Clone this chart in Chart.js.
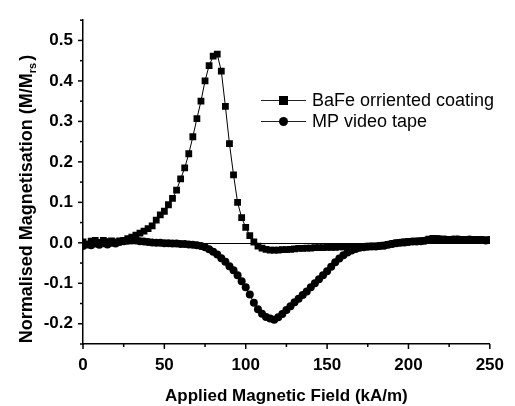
<!DOCTYPE html>
<html>
<head>
<meta charset="utf-8">
<script src="https://cdn.jsdelivr.net/npm/chart.js@4.4.1/dist/chart.umd.min.js"></script>
<style>
  html, body { margin: 0; padding: 0; background: #fff; }
  canvas { display: block; }
</style>
</head>
<body>
<canvas id="chart" width="515" height="406"></canvas>
<script>
// field values (kA/m), sampled every 2.5
const fieldValues = [];
for (let i = 0; i <= 100; i++) fieldValues.push(i * 2.5);

const bafeValues = [
    0.002, -0.004, 0.004, 0.006, 0.001, 0.006, 0.003, 0.005, 0.002, 0.005,
    0.006, 0.010, 0.014, 0.019, 0.024, 0.029, 0.035, 0.042, 0.056, 0.069,
    0.078, 0.094, 0.110, 0.130, 0.158, 0.185, 0.220, 0.262, 0.307, 0.350,
    0.400, 0.438, 0.461, 0.466, 0.424, 0.337, 0.245, 0.168, 0.100, 0.062,
    0.038, 0.018, 0.002, -0.008, -0.013, -0.016, -0.018, -0.018, -0.018, -0.017,
    -0.017, -0.016, -0.015, -0.014, -0.014, -0.013, -0.013, -0.012, -0.012, -0.012,
    -0.011, -0.011, -0.011, -0.010, -0.010, -0.010, -0.010, -0.009, -0.009, -0.009,
    -0.008, -0.008, -0.008, -0.007, -0.006, -0.004, -0.002, 0.000, 0.001, 0.002,
    0.003, 0.003, 0.004, 0.005, 0.006, 0.009, 0.011, 0.010, 0.009, 0.008,
    0.008, 0.008, 0.009, 0.008, 0.008, 0.007, 0.008, 0.008, 0.007, 0.007,
    0.007
];

const mpValues = [
    -0.008, -0.004, -0.006, -0.002, -0.005, -0.001, -0.004, 0.000, -0.002, 0.002,
    0.004, 0.005, 0.006, 0.006, 0.004, 0.003, 0.002, 0.001, 0.000, 0.000,
    -0.001, -0.001, -0.002, -0.002, -0.003, -0.003, -0.004, -0.005, -0.006, -0.008,
    -0.011, -0.016, -0.022, -0.029, -0.038, -0.047, -0.058, -0.068, -0.080, -0.095,
    -0.110, -0.128, -0.148, -0.164, -0.175, -0.183, -0.187, -0.190, -0.184, -0.176,
    -0.166, -0.157, -0.147, -0.138, -0.129, -0.120, -0.110, -0.100, -0.090, -0.080,
    -0.070, -0.059, -0.048, -0.039, -0.031, -0.024, -0.019, -0.015, -0.012, -0.011,
    -0.010, -0.009, -0.009, -0.008, -0.007, -0.005, -0.003, -0.001, 0.000, 0.001,
    0.002, 0.003, 0.003, 0.004, 0.005, 0.007, 0.009, 0.009, 0.008, 0.008,
    0.007, 0.008, 0.008, 0.007, 0.007, 0.008, 0.007, 0.007, 0.007, 0.006,
    0.007
];

const seriesLabels = ['BaFe orriented coating', 'MP video tape'];
const xTitle = 'Applied Magnetic Field (kA/m)';
const yTitleMain = 'Normalised Magnetisation (M/M';
const yTitleSub = 'rs';

const FONT = "'Liberation Sans', Arial, sans-serif";

function toPoints(values) {
    return values.map((v, i) => ({ x: fieldValues[i], y: v }));
}

// ticks, zero line, titles and legend drawn by hand
const decorPlugin = {
    id: 'decor',
    beforeDatasetsDraw(chart) {
        const { ctx, chartArea, scales } = chart;
        const y0 = Math.round(scales.y.getPixelForValue(0)) + 0.5;
        ctx.save();
        ctx.strokeStyle = '#000';
        ctx.lineWidth = 1;
        ctx.beginPath();
        ctx.moveTo(chartArea.left, y0);
        ctx.lineTo(chartArea.right, y0);
        ctx.stroke();
        ctx.restore();
    },
    afterDraw(chart) {
        const { ctx, chartArea, scales } = chart;
        ctx.save();
        ctx.strokeStyle = '#000';
        ctx.lineWidth = 1.5;

        // x ticks (outward)
        scales.x.ticks.forEach(t => {
            const px = scales.x.getPixelForValue(t.value);
            const len = t.value % 50 === 0 ? 5 : 3;
            ctx.beginPath();
            ctx.moveTo(px, chartArea.bottom);
            ctx.lineTo(px, chartArea.bottom + len);
            ctx.stroke();
        });
        // y ticks (outward)
        scales.y.ticks.forEach(t => {
            const py = scales.y.getPixelForValue(t.value);
            const major = Math.abs(t.value * 10 - Math.round(t.value * 10)) < 1e-6;
            ctx.beginPath();
            ctx.moveTo(chartArea.left, py);
            ctx.lineTo(chartArea.left - (major ? 5 : 3), py);
            ctx.stroke();
        });

        // x title
        ctx.fillStyle = '#000';
        ctx.font = 'bold 17px ' + FONT;
        ctx.textAlign = 'center';
        ctx.textBaseline = 'alphabetic';
        ctx.fillText(xTitle, (chartArea.left + chartArea.right) / 2, 401);

        // y title with subscript
        ctx.save();
        ctx.translate(32, 199);
        ctx.rotate(-Math.PI / 2);
        ctx.textAlign = 'left';
        ctx.font = 'bold 18px ' + FONT;
        const wMain = ctx.measureText(yTitleMain).width;
        const wClose = ctx.measureText(')').width;
        ctx.font = 'bold 11px ' + FONT;
        const wSub = ctx.measureText(yTitleSub).width;
        let x = -(wMain + wSub + wClose + 2) / 2;
        ctx.font = 'bold 18px ' + FONT;
        ctx.fillText(yTitleMain, x, 0);
        x += wMain;
        ctx.font = 'bold 11px ' + FONT;
        ctx.fillText(yTitleSub, x, 4);
        x += wSub + 2;
        ctx.font = 'bold 18px ' + FONT;
        ctx.fillText(')', x, 0);
        ctx.restore();

        // legend
        const rows = [100, 121];
        chart.data.datasets.forEach((ds, i) => {
            const yy = rows[i];
            ctx.strokeStyle = '#222';
            ctx.lineWidth = 1;
            ctx.beginPath();
            ctx.moveTo(261, yy + 0.5);
            ctx.lineTo(306, yy + 0.5);
            ctx.stroke();
            ctx.fillStyle = '#000';
            if (ds.pointStyle === 'rect') {
                ctx.fillRect(283 - 4, yy - 4, 9, 9);
            } else {
                ctx.beginPath();
                ctx.arc(283.5, yy + 0.5, 4.5, 0, Math.PI * 2);
                ctx.fill();
            }
            ctx.font = '18px ' + FONT;
            ctx.textAlign = 'left';
            ctx.textBaseline = 'middle';
            ctx.fillText(ds.label, 312, yy + 1);
        });
        ctx.restore();
    }
};

new Chart(document.getElementById('chart'), {
    type: 'scatter',
    data: {
        datasets: [
            {
                label: seriesLabels[0],
                data: toPoints(bafeValues),
                showLine: true,
                borderColor: '#000',
                borderWidth: 1,
                backgroundColor: '#000',
                pointStyle: 'rect',
                pointRadius: 4.8,
                pointBorderWidth: 0
            },
            {
                label: seriesLabels[1],
                data: toPoints(mpValues),
                showLine: true,
                borderColor: '#000',
                borderWidth: 1,
                backgroundColor: '#000',
                pointStyle: 'circle',
                pointRadius: 4,
                pointBorderWidth: 0
            }
        ]
    },
    options: {
        responsive: false,
        animation: false,
        devicePixelRatio: 1,
        layout: {
            padding: { top: 10, right: 15, left: 0, bottom: 0 }
        },
        plugins: {
            legend: { display: false },
            tooltip: { enabled: false }
        },
        scales: {
            x: {
                type: 'linear',
                min: 0,
                max: 250,
                grid: { display: false, drawTicks: false },
                border: { display: true, color: '#000', width: 1.5 },
                ticks: {
                    stepSize: 25,
                    autoSkip: false,
                    maxRotation: 0,
                    padding: 11,
                    color: '#000',
                    font: { family: FONT, size: 17, weight: 'bold' },
                    callback: v => (v % 50 === 0 ? String(v) : '')
                },
                afterFit(scale) { scale.height = 62; }
            },
            y: {
                type: 'linear',
                min: -0.25,
                max: 0.55,
                grid: { display: false, drawTicks: false },
                border: { display: true, color: '#000', width: 1.5 },
                ticks: {
                    stepSize: 0.05,
                    autoSkip: false,
                    padding: 10,
                    color: '#000',
                    font: { family: FONT, size: 17, weight: 'bold' },
                    callback: v => (Math.abs(v * 10 - Math.round(v * 10)) < 1e-6 ? v.toFixed(1) : '')
                },
                afterFit(scale) { scale.width = 83; }
            }
        }
    },
    plugins: [decorPlugin]
});
</script>
</body>
</html>
